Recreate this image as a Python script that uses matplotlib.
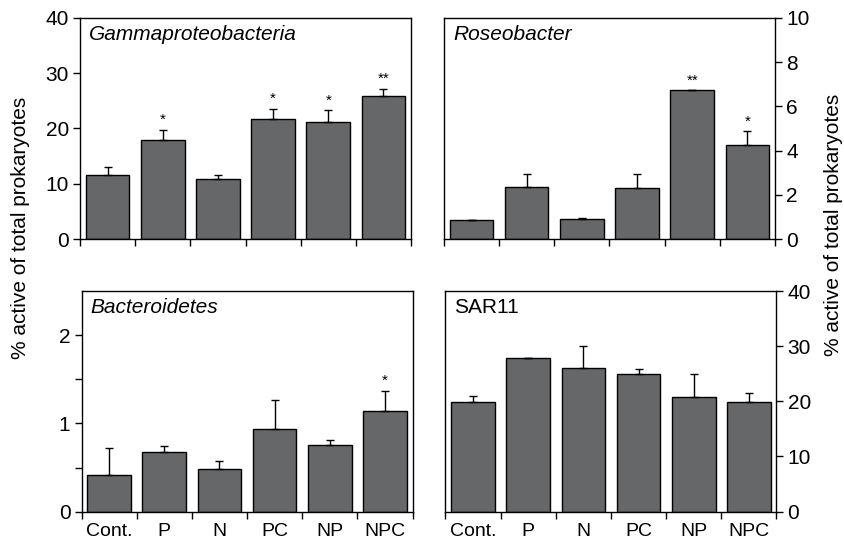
import matplotlib
matplotlib.use("Agg")
import matplotlib.pyplot as plt
import numpy as np

plt.rcParams['font.family'] = ['Liberation Sans', 'DejaVu Sans']

categories = ["Cont.", "P", "N", "PC", "NP", "NPC"]

gamma_vals = [11.6, 18.0, 10.9, 21.8, 21.1, 25.9]
gamma_err = [1.5, 1.8, 0.7, 1.8, 2.2, 1.3]
gamma_sig = ["", "*", "", "*", "*", "**"]

roseo_vals = [0.84, 2.34, 0.89, 2.31, 6.73, 4.25]
roseo_err = [0.0, 0.6, 0.05, 0.63, 0.0, 0.62]
roseo_sig = ["", "", "", "", "**", "*"]

bact_vals = [0.415, 0.68, 0.48, 0.94, 0.76, 1.136]
bact_err = [0.305, 0.06, 0.09, 0.33, 0.055, 0.234]
bact_sig = ["", "", "", "", "", "*"]

sar_vals = [19.9, 27.9, 26.1, 25.0, 20.8, 19.9]
sar_err = [1.1, 0.0, 3.9, 0.8, 4.1, 1.6]
sar_sig = ["", "", "", "", "", ""]

bar_color = "#666769"

fig = plt.figure(figsize=(8.45, 5.42), dpi=100)

W = 0.3917
H = 0.408
panels = [
    dict(rect=[0.0947, 0.559, W, H], vals=gamma_vals, err=gamma_err, sig=gamma_sig,
         title="Gammaproteobacteria", italic=True, ylim=40, yt=[0, 10, 20, 30, 40],
         minor=None, side="left", xlabels=False),
    dict(rect=[0.5254, 0.559, W, H], vals=roseo_vals, err=roseo_err, sig=roseo_sig,
         title="Roseobacter", italic=True, ylim=10, yt=[0, 2, 4, 6, 8, 10],
         minor=None, side="right", xlabels=False),
    dict(rect=[0.0965, 0.056, W, 0.407], vals=bact_vals, err=bact_err, sig=bact_sig,
         title="Bacteroidetes", italic=True, ylim=2.5, yt=[0, 1, 2],
         minor=[0.5, 1.5], side="left", xlabels=True),
    dict(rect=[0.5272, 0.056, W, 0.407], vals=sar_vals, err=sar_err, sig=sar_sig,
         title="SAR11", italic=False, ylim=40, yt=[0, 10, 20, 30, 40],
         minor=None, side="right", xlabels=True),
]

x = np.arange(len(categories))
for p in panels:
    ax = fig.add_axes(p["rect"])
    ax.bar(x, p["vals"], width=0.79, color=bar_color, edgecolor="black", linewidth=1.0, zorder=2)
    lo = np.zeros(len(x))
    ax.errorbar(x, p["vals"], yerr=[lo, p["err"]], fmt="none", ecolor="black",
                elinewidth=1.0, capsize=3, capthick=1.0, zorder=3)
    for xi, v, e, s in zip(x, p["vals"], p["err"], p["sig"]):
        if s:
            ax.annotate(s, (xi, v + e), xytext=(0, 2), textcoords="offset points",
                        ha="center", va="bottom", fontsize=11)
    ax.set_xlim(-0.5, 5.5)
    ax.set_ylim(0, p["ylim"])
    ax.set_xticks(np.arange(-0.5, 6.0, 1.0))
    ax.set_xticklabels([])
    ax.tick_params(axis="x", which="major", direction="out", length=5, width=1)
    if p["xlabels"]:
        ax.set_xticks(x, minor=True)
        ax.set_xticklabels(categories, minor=True, fontsize=14)
        ax.tick_params(axis="x", which="minor", length=0, pad=8)
    ax.set_yticks(p["yt"])
    ax.set_yticklabels([("%g" % t) for t in p["yt"]], fontsize=15)
    if p["minor"]:
        ax.set_yticks(p["minor"], minor=True)
        ax.tick_params(axis="y", which="minor", direction="out", length=5, width=1)
    ax.tick_params(axis="y", which="major", direction="out", length=5, width=1, pad=3)
    if p["side"] == "right":
        ax.yaxis.tick_right()
        ax.tick_params(axis="y", which="both", direction="out", length=5, width=1, pad=3)
    for sp in ax.spines.values():
        sp.set_linewidth(1.0)
    ax.text(0.027, 0.97, p["title"], transform=ax.transAxes, ha="left", va="top",
            fontsize=15, style="italic" if p["italic"] else "normal")

fig.text(0.024, 0.58, "% active of total prokaryotes", rotation=90, ha="center", va="center", fontsize=15)
fig.text(0.986, 0.585, "% active of total prokaryotes", rotation=90, ha="center", va="center", fontsize=15)

fig.savefig("out.png", dpi=100)
